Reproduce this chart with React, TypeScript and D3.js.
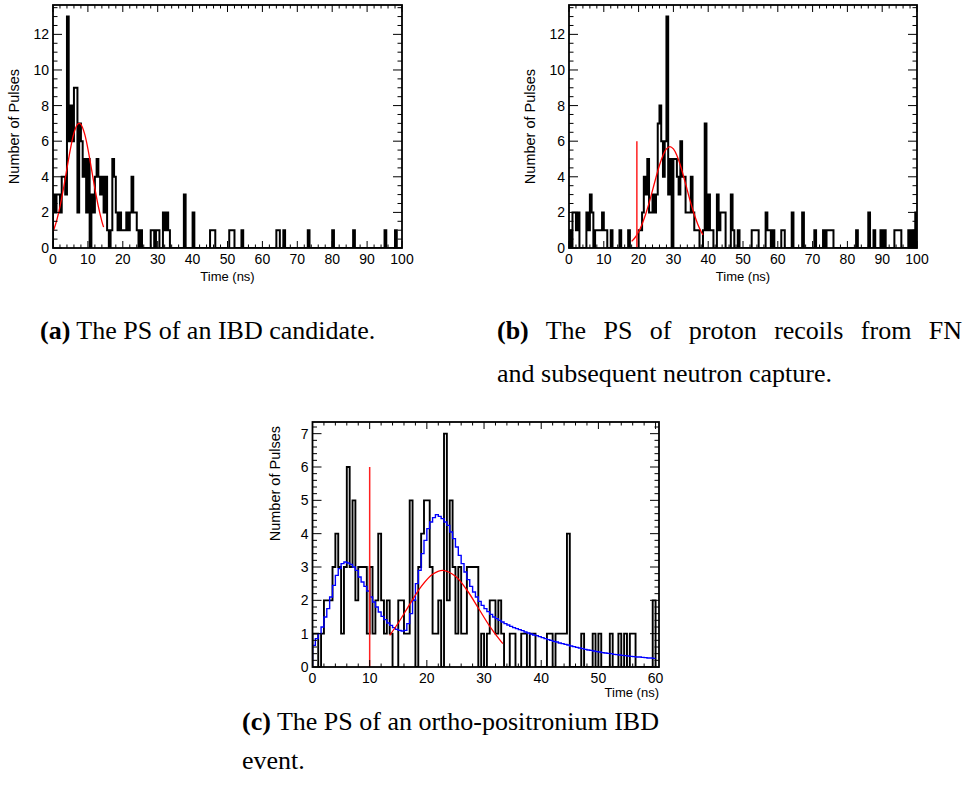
import React, { useLayoutEffect, useRef, useState } from "react";
import * as d3 from "d3";

const W = 965;
const H = 799;
const binWidth = 0.5;

// Panel (a): pulses per 0.5 ns bin, 0-100 ns
const countsA: number[] = [
  3, 2, 3, 3, 2, 4, 4, 3, 13, 6, 8, 6, 9, 9, 2, 7, 6, 4, 5, 2,
  5, 0, 3, 2, 4, 5, 4, 3, 4, 2, 4, 1, 0, 1, 5, 4, 2, 1, 2, 1,
  1, 1, 2, 1, 2, 4, 2, 2, 1, 0, 1, 0, 0, 0, 0, 0, 1, 1, 0, 1,
  1, 0, 0, 2, 1, 2, 1, 0, 0, 0, 0, 0, 0, 0, 0, 3, 0, 0, 0, 0,
  2, 0, 0, 0, 0, 0, 0, 0, 0, 0, 1, 1, 1, 0, 0, 0, 0, 0, 0, 0,
  0, 1, 1, 1, 0, 0, 0, 0, 1, 0, 0, 0, 0, 0, 0, 0, 0, 0, 0, 0,
  0, 0, 0, 0, 0, 0, 0, 0, 1, 1, 0, 0, 1, 0, 0, 0, 0, 0, 0, 0,
  0, 0, 0, 0, 0, 0, 1, 0, 0, 0, 0, 0, 0, 0, 0, 0, 0, 0, 0, 0,
  1, 0, 0, 0, 0, 0, 0, 0, 0, 0, 0, 0, 1, 0, 0, 0, 0, 0, 0, 0,
  0, 0, 0, 0, 0, 0, 0, 0, 0, 0, 1, 0, 0, 0, 0, 0, 1, 0, 0, 0,
];

// Panel (b)
const countsB: number[] = [
  1, 0, 2, 2, 1, 2, 0, 0, 0, 0, 2, 1, 3, 2, 0, 1, 1, 1, 1, 2,
  1, 1, 0, 0, 1, 0, 0, 0, 0, 1, 0, 0, 0, 0, 1, 0, 0, 0, 0, 0,
  1, 1, 2, 4, 3, 5, 2, 2, 3, 2, 3, 7, 8, 6, 4, 6, 13, 3, 5, 0,
  5, 5, 4, 3, 6, 4, 4, 2, 2, 2, 4, 2, 1, 1, 1, 0, 0, 1, 7, 1,
  3, 1, 1, 0, 0, 3, 1, 2, 2, 2, 0, 0, 0, 3, 1, 0, 0, 1, 0, 0,
  0, 0, 0, 0, 0, 1, 1, 1, 1, 0, 0, 0, 0, 2, 1, 1, 0, 1, 0, 0,
  0, 0, 1, 1, 0, 0, 0, 0, 2, 0, 0, 0, 0, 0, 2, 0, 0, 0, 0, 0,
  0, 1, 0, 0, 0, 0, 1, 0, 1, 1, 1, 1, 0, 0, 0, 0, 0, 0, 0, 0,
  0, 0, 0, 0, 0, 1, 0, 0, 0, 0, 0, 0, 2, 0, 0, 1, 0, 0, 0, 1,
  0, 1, 0, 0, 0, 0, 0, 1, 1, 1, 1, 0, 0, 0, 0, 1, 0, 1, 0, 2,
];

// Panel (c): 0-60 ns
const countsC: number[] = [
  1, 1, 0, 1, 2, 2, 2, 3, 4, 3, 1, 3, 6, 3, 5, 2, 3, 3, 3, 1,
  3, 1, 2, 4, 2, 1, 2, 1, 0, 0, 2, 2, 1, 1, 5, 2, 0, 3, 4, 5,
  5, 3, 1, 1, 2, 0, 7, 2, 5, 3, 1, 3, 1, 1, 3, 3, 3, 3, 0, 1,
  0, 1, 2, 2, 1, 2, 1, 0, 0, 1, 1, 0, 0, 1, 1, 0, 1, 1, 0, 0,
  0, 0, 1, 1, 0, 1, 1, 1, 1, 4, 0, 0, 0, 0, 1, 0, 0, 0, 1, 0,
  1, 0, 0, 0, 1, 0, 0, 1, 0, 1, 0, 1, 1, 0, 0, 0, 0, 0, 0, 2,
];

// Panel (c): blue template (0.5 ns steps)
const blueC: number[] = [
  0.65, 0.85, 1.0, 1.2, 1.5, 1.75, 2.1, 2.45, 2.75, 2.95,
  3.1, 3.15, 3.12, 3.08, 3.0, 2.9, 2.7, 2.55, 2.42, 2.28,
  2.1, 1.95, 1.8, 1.65, 1.52, 1.42, 1.32, 1.25, 1.18, 1.13,
  1.1, 1.08, 1.1, 1.3, 1.6, 2.0, 2.5, 2.9, 3.4, 3.8,
  4.15, 4.35, 4.48, 4.57, 4.52, 4.45, 4.35, 4.25, 4.05, 3.85,
  3.6, 3.35, 3.1, 2.85, 2.62, 2.42, 2.25, 2.1, 1.97, 1.85,
  1.75, 1.66, 1.58, 1.5, 1.45, 1.4, 1.35, 1.3, 1.26, 1.22,
  1.18, 1.15, 1.12, 1.09, 1.05, 1.02, 0.99, 0.96, 0.94, 0.91,
  0.88, 0.85, 0.82, 0.8, 0.77, 0.75, 0.72, 0.7, 0.68, 0.66,
  0.63, 0.61, 0.59, 0.57, 0.55, 0.53, 0.51, 0.5, 0.48, 0.46,
  0.45, 0.43, 0.42, 0.41, 0.4, 0.38, 0.37, 0.36, 0.35, 0.34,
  0.33, 0.32, 0.31, 0.3, 0.3, 0.29, 0.28, 0.27, 0.27, 0.26,
];

// Red fitted curves (read points)
const fitAx = [0, 1, 2, 3, 4, 5, 6, 7, 7.5, 8, 9, 10, 11, 12, 13, 14, 14.5];
const fitAy = [0.9, 1.5, 2.32, 3.34, 4.47, 5.57, 6.45, 6.94, 7.0, 6.94, 6.45, 5.57, 4.47, 3.34, 2.32, 1.5, 1.17];
const fitBx = [18, 19, 20, 21, 22, 23, 24, 25, 26, 27, 28, 29, 30, 31, 32, 33, 34, 35, 36, 37, 38, 38.5];
const fitBy = [0.37, 0.59, 0.91, 1.34, 1.88, 2.52, 3.24, 3.97, 4.65, 5.2, 5.57, 5.7, 5.57, 5.2, 4.65, 3.97, 3.24, 2.52, 1.88, 1.34, 0.91, 0.74];
const fitCx = [13.5, 15, 17, 19, 21, 22.8, 25, 27, 29, 31, 33, 33.3];
const fitCy = [0.95, 1.32, 1.88, 2.41, 2.78, 2.9, 2.72, 2.31, 1.77, 1.22, 0.76, 0.7];

const xTicksAB = [0, 10, 20, 30, 40, 50, 60, 70, 80, 90, 100];
const yTicksAB = [0, 2, 4, 6, 8, 10, 12];
const xTicksC = [0, 10, 20, 30, 40, 50, 60];
const yTicksC = [0, 1, 2, 3, 4, 5, 6, 7];

const SANS = "'Liberation Sans', Arial, Helvetica, sans-serif";
const SERIF = "'Liberation Serif', 'Times New Roman', serif";

type PanelProps = {
  id: string;
  x0: number; x1: number; y0: number; y1: number;
  xMax: number; yMax: number;
  xTicks: number[]; xMinorStep: number;
  yTicks: number[]; yMinorStep: number;
  counts: number[];
  histW: number;
  blue?: number[];
  fitX: number[]; fitY: number[];
  vline?: number;
  titlesCentered: boolean;
};

function Panel(p: PanelProps) {
  const x = d3.scaleLinear().domain([0, p.xMax]).range([p.x0, p.x1]);
  const y = d3.scaleLinear().domain([0, p.yMax]).range([p.y1, p.y0]);

  const histPath = (vals: number[]) => {
    const path = d3.path();
    path.moveTo(x(0), y(0));
    vals.forEach((v, i) => {
      path.lineTo(x(i * binWidth), y(v));
      path.lineTo(x((i + 1) * binWidth), y(v));
    });
    path.lineTo(x(vals.length * binWidth), y(0));
    return path.toString();
  };

  const fitLine = d3
    .line<number>()
    .x((_, i) => x(p.fitX[i]))
    .y((d) => y(d))
    .curve(d3.curveCatmullRom);

  const xMinor = d3.range(0, p.xMax + 1e-6, p.xMinorStep);
  const yMinor = d3.range(0, p.yMax + 1e-6, p.yMinorStep);
  const majX = 7, minX = 3.5, majY = 9, minY = 4.5;
  const clipId = "clip-" + p.id;

  let bluePath = "";
  if (p.blue) {
    const path = d3.path();
    path.moveTo(x(0), y(0));
    p.blue.forEach((v, i) => {
      path.lineTo(x(i * binWidth), y(v));
      path.lineTo(x((i + 1) * binWidth), y(v));
    });
    bluePath = path.toString();
  }

  return (
    <g>
      <defs>
        <clipPath id={clipId}>
          <rect x={p.x0} y={p.y0} width={p.x1 - p.x0} height={p.y1 - p.y0} />
        </clipPath>
      </defs>
      <g clipPath={`url(#${clipId})`}>
        <path d={histPath(p.counts)} fill="none" stroke="#000" strokeWidth={p.histW} strokeLinejoin="miter" />
        {p.blue && <path d={bluePath} fill="none" stroke="#0000ff" strokeWidth={1.4} />}
        <path d={fitLine(p.fitY) || ""} fill="none" stroke="#ff0000" strokeWidth={1.3} />
        {p.vline !== undefined && (
          <line x1={x(p.vline)} x2={x(p.vline)} y1={y(0)} y2={y(6)} stroke="#ff2020" strokeWidth={1.5} />
        )}
      </g>
      <g stroke="#000" strokeWidth={1}>
        {xMinor.map((t, i) => {
          const major = p.xTicks.some((m) => Math.abs(m - t) < 1e-6);
          const len = major ? majX : minX;
          return (
            <g key={"xt" + i}>
              <line x1={x(t)} x2={x(t)} y1={p.y1} y2={p.y1 - len} />
              <line x1={x(t)} x2={x(t)} y1={p.y0} y2={p.y0 + len} />
            </g>
          );
        })}
        {yMinor.map((t, i) => {
          const major = p.yTicks.some((m) => Math.abs(m - t) < 1e-6);
          const len = major ? majY : minY;
          return (
            <g key={"yt" + i}>
              <line x1={p.x0} x2={p.x0 + len} y1={y(t)} y2={y(t)} />
              <line x1={p.x1} x2={p.x1 - len} y1={y(t)} y2={y(t)} />
            </g>
          );
        })}
      </g>
      <rect x={p.x0} y={p.y0} width={p.x1 - p.x0} height={p.y1 - p.y0} fill="none" stroke="#000" strokeWidth={1.8} />
      <g fontFamily={SANS} fontSize={14} fill="#000">
        {p.xTicks.map((t) => (
          <text key={"xl" + t} x={x(t)} y={p.y1 + 16} textAnchor="middle">{t}</text>
        ))}
        {p.yTicks.map((t) => (
          <text key={"yl" + t} x={p.x0 - 4} y={y(t)} dy="0.36em" textAnchor="end">{t}</text>
        ))}
      </g>
      <g fontFamily={SANS} fill="#000">
        {p.titlesCentered ? (
          <text x={(p.x0 + p.x1) / 2} y={p.y1 + 33} textAnchor="middle" fontSize={13}>Time (ns)</text>
        ) : (
          <text x={p.x1} y={p.y1 + 30} textAnchor="end" fontSize={13}>Time (ns)</text>
        )}
        {p.titlesCentered ? (
          <text transform={`translate(${p.x0 - 34},${(p.y0 + p.y1) / 2}) rotate(-90)`} textAnchor="middle" fontSize={14.5}>
            Number of Pulses
          </text>
        ) : (
          <text transform={`translate(${p.x0 - 33},${p.y0 + 4}) rotate(-90)`} textAnchor="end" fontSize={14.5}>
            Number of Pulses
          </text>
        )}
      </g>
    </g>
  );
}

function JustifiedText(props: { x: number; y: number; width: number; gaps: number; children: React.ReactNode }) {
  const ref = useRef<SVGTextElement>(null);
  const [ws, setWs] = useState(0);
  useLayoutEffect(() => {
    if (ref.current) {
      const nat = ref.current.getComputedTextLength();
      setWs(Math.max(0, (props.width - nat) / props.gaps));
    }
  }, []);
  return (
    <text ref={ref} x={props.x} y={props.y} style={{ wordSpacing: ws + "px" }}>
      {props.children}
    </text>
  );
}

export default function App() {
  return (
    <svg
      width={W}
      height={H}
      style={{ position: "absolute", left: 0, top: 0, background: "#fff" }}
    >
      <rect x={0} y={0} width={W} height={H} fill="#fff" />
      <Panel
        id="a" x0={53} x1={402} y0={5} y1={248} xMax={100} yMax={13.65}
        xTicks={xTicksAB} xMinorStep={2} yTicks={yTicksAB} yMinorStep={0.5}
        counts={countsA} histW={2} fitX={fitAx} fitY={fitAy} titlesCentered={true}
      />
      <Panel
        id="b" x0={569} x1={917} y0={5} y1={248} xMax={100} yMax={13.65}
        xTicks={xTicksAB} xMinorStep={2} yTicks={yTicksAB} yMinorStep={0.5}
        counts={countsB} histW={2} fitX={fitBx} fitY={fitBy} vline={19.5} titlesCentered={true}
      />
      <Panel
        id="c" x0={312.5} x1={659} y0={422} y1={667} xMax={60.6} yMax={7.35}
        xTicks={xTicksC} xMinorStep={2} yTicks={yTicksC} yMinorStep={0.2}
        counts={countsC} histW={1.9} blue={blueC} fitX={fitCx} fitY={fitCy} vline={10} titlesCentered={false}
      />
      <g fontFamily={SERIF} fontSize={26} fill="#000">
        <text x={40} y={339}>
          <tspan fontWeight="bold">(a)</tspan>
          {" The PS of an IBD candidate."}
        </text>
        <JustifiedText x={497} y={339} width={465} gaps={7}>
          <tspan fontWeight="bold">(b)</tspan>
          {" The PS of proton recoils from FN"}
        </JustifiedText>
        <text x={497} y={382}>and subsequent neutron capture.</text>
        <text x={242} y={730}>
          <tspan fontWeight="bold">(c)</tspan>
          {" The PS of an ortho-positronium IBD"}
        </text>
        <text x={242} y={769}>event.</text>
      </g>
    </svg>
  );
}
